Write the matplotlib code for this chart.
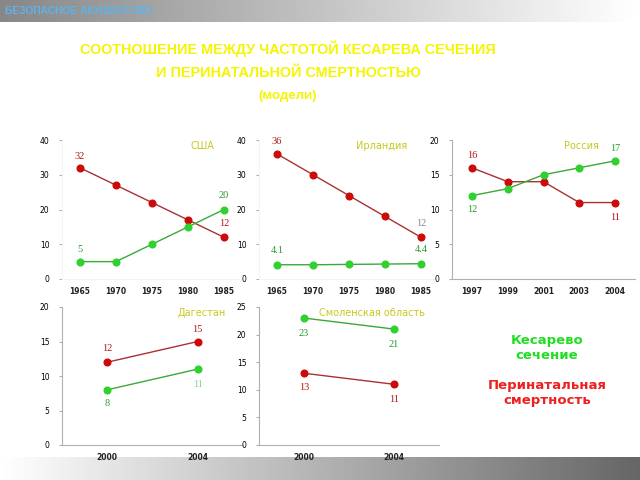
import numpy as np
import matplotlib

matplotlib.use("Agg")
import matplotlib.pyplot as plt

# data
usa_years = ["1965", "1970", "1975", "1980", "1985"]
usa_mort = [32, 27, 22, 17, 12]
usa_cs = [5, 5, 10, 15, 20]

irl_years = ["1965", "1970", "1975", "1980", "1985"]
irl_mort = [36, 30, 24, 18, 12]
irl_cs = [4.1, 4.1, 4.2, 4.3, 4.4]

rus_years = ["1997", "1999", "2001", "2003", "2004"]
rus_mort = [16, 14, 14, 11, 11]
rus_cs = [12, 13, 15, 16, 17]

dag_years = ["2000", "2004"]
dag_mort = [12, 15]
dag_cs = [8, 11]

smo_years = ["2000", "2004"]
smo_mort = [13, 11]
smo_cs = [23, 21]

RED = "#cc0a0a"
RED_LINE = "#a83232"
GREEN = "#2ed12e"
GREEN_LINE = "#3aa83a"
RED_TXT = "#b01818"
GREEN_TXT = "#2a9a2a"
TITLE_COL = "#c8c81e"
SANS = ["Liberation Sans", "DejaVu Sans"]

W, H = 640, 480
fig = plt.figure(figsize=(6.4, 4.8), dpi=100)
fig.patch.set_facecolor("white")


def px_axes(x0, y0, x1, y1, **kw):
    return fig.add_axes([x0 / W, 1 - y1 / H, (x1 - x0) / W, (y1 - y0) / H], **kw)


# top banner
ax_top = px_axes(0, 0, 640, 22)
grad = np.linspace(0.53, 1.0, 256).reshape(1, -1)
ax_top.imshow(grad, cmap="gray", vmin=0, vmax=1, aspect="auto", extent=[0, 1, 0, 1])
ax_top.axis("off")
ax_top.text(0.008, 0.5, "БЕЗОПАСНОЕ АКУШЕРСТВО", color="#5fb2ea", fontsize=7.4,
            fontweight="bold", family=SANS, va="center", ha="left",
            transform=ax_top.transAxes)

# bottom banner
ax_bot = px_axes(0, 457, 640, 480)
grad2 = np.linspace(1.0, 0.4, 256).reshape(1, -1)
ax_bot.imshow(grad2, cmap="gray", vmin=0, vmax=1, aspect="auto", extent=[0, 1, 0, 1])
ax_bot.axis("off")

# title
title_lines = [("СООТНОШЕНИЕ МЕЖДУ ЧАСТОТОЙ КЕСАРЕВА СЕЧЕНИЯ", 49, 10.4),
               ("И ПЕРИНАТАЛЬНОЙ СМЕРТНОСТЬЮ", 73, 10.4),
               ("(модели)", 96, 9.5)]
for txt, ypx, fs in title_lines:
    fig.text(288 / W, 1 - ypx / H, txt, color="#f5f500", fontsize=fs, fontweight="bold",
             family=SANS, ha="center", va="center")


def panel(box, years, mort, cs, ymax, ystep, title, title_x, labels, spine_col, xpad=0.5):
    ax = px_axes(*box)
    x = np.arange(len(years))
    ax.plot(x, mort, color=RED_LINE, lw=1, marker="o", ms=4.8, mfc=RED, mec=RED, zorder=3)
    ax.plot(x, cs, color=GREEN_LINE, lw=1, marker="o", ms=4.8, mfc=GREEN, mec=GREEN, zorder=3)
    ax.set_xlim(-xpad, len(years) - 1 + xpad)
    ax.set_ylim(0, ymax)
    ax.set_yticks(np.arange(0, ymax + 0.1, ystep))
    ax.set_yticklabels([str(int(v)) for v in np.arange(0, ymax + 0.1, ystep)], fontsize=5.5)
    ax.set_xticks(x)
    ax.set_xticklabels(years, fontsize=5.5, fontweight="bold", color="#222222")
    ax.tick_params(axis="x", length=0, pad=6)
    ax.tick_params(axis="y", length=2, width=0.6, color="#999999", pad=7)
    for s in ["top", "right"]:
        ax.spines[s].set_visible(False)
    for s in ["left", "bottom"]:
        ax.spines[s].set_color(spine_col)
        ax.spines[s].set_linewidth(0.8)
    ax.set_facecolor("none")
    ax.text(title_x, 0.96, title, color=TITLE_COL, fontsize=7, ha="center", va="center",
            transform=ax.transAxes)
    for (i, val, txt, col, dy) in labels:
        ax.annotate(txt, (i, val), xytext=(0, dy), textcoords="offset points",
                    ha="center", va="center", color=col, fontsize=7.5,
                    family="Liberation Serif")
    return ax


panel((62, 140, 242, 279), usa_years, usa_mort, usa_cs, 40, 10, "США", 0.78,
      [(0, usa_mort[0], "32", RED_TXT, 8), (4, usa_mort[4], "12", RED_TXT, 10),
       (0, usa_cs[0], "5", GREEN_TXT, 9), (4, usa_cs[4], "20", GREEN_TXT, 10)],
      "#f4f4f4")

panel((259, 140, 439, 279), irl_years, irl_mort, irl_cs, 40, 10, "Ирландия", 0.68,
      [(0, irl_mort[0], "36", RED_TXT, 9), (4, irl_mort[4], "12", "#888888", 10),
       (0, irl_cs[0], "4.1", GREEN_TXT, 10), (4, irl_cs[4], "4.4", GREEN_TXT, 10)],
      "#f4f4f4")

panel((452, 140, 635, 279), rus_years, rus_mort, rus_cs, 20, 5, "Россия", 0.71,
      [(0, rus_mort[0], "16", RED_TXT, 9), (4, rus_mort[4], "11", RED_TXT, -11),
       (0, rus_cs[0], "12", GREEN_TXT, -10), (4, rus_cs[4], "17", GREEN_TXT, 9)],
      "#b0b0b0", xpad=0.56)

panel((62, 307, 243, 445), dag_years, dag_mort, dag_cs, 20, 5, "Дагестан", 0.77,
      [(0, dag_mort[0], "12", RED_TXT, 10), (1, dag_mort[1], "15", RED_TXT, 9),
       (0, dag_cs[0], "8", GREEN_TXT, -10), (1, dag_cs[1], "11", "#8fd08f", -11)],
      "#b0b0b0")

panel((259, 307, 439, 445), smo_years, smo_mort, smo_cs, 25, 5, "Смоленская область", 0.63,
      [(0, smo_mort[0], "13", RED_TXT, -10), (1, smo_mort[1], "11", RED_TXT, -11),
       (0, smo_cs[0], "23", GREEN_TXT, -11), (1, smo_cs[1], "21", GREEN_TXT, -11)],
      "#b0b0b0")

# legend text
fig.text(547 / W, 1 - 348 / H, "Кесарево\nсечение", color="#22dd22", fontsize=9.5,
         fontweight="bold", ha="center", va="center", linespacing=1.2)
fig.text(547 / W, 1 - 393 / H, "Перинатальная\nсмертность", color="#ee2020", fontsize=9.5,
         fontweight="bold", ha="center", va="center", linespacing=1.2)

fig.savefig("out.png", dpi=100)
